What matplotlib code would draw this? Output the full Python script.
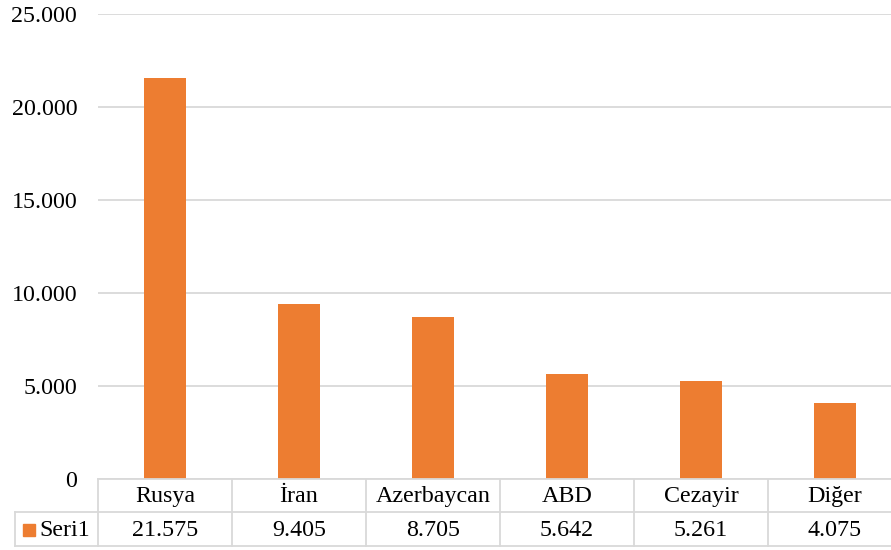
import matplotlib
matplotlib.use("Agg")
import matplotlib.pyplot as plt
from matplotlib.lines import Line2D
from matplotlib.patches import Rectangle

categories = ["Rusya", "İran", "Azerbaycan", "ABD", "Cezayir", "Diğer"]
values = [21575, 9405, 8705, 5642, 5261, 4075]
series_name = "Seri1"
yticks = [0, 5000, 10000, 15000, 20000, 25000]

BAR = "#ED7D31"
GRID = "#D9D9D9"
W, H = 891, 550

plt.rcParams["font.family"] = ["Liberation Serif", "DejaVu Serif"]
plt.rcParams["font.size"] = 17.3


def fmt(v):
    return f"{v:,}".replace(",", ".")


def fx(px):
    return px / W


def fy(py):
    return 1 - py / H


fig = plt.figure(figsize=(W / 100, H / 100), dpi=100)

x_left, x_right = 98, 902
y_top, y_base = 14, 479
ax = fig.add_axes([fx(x_left), fy(y_base), fx(x_right - x_left), (y_base - y_top) / H])
ax.set_xlim(-0.5, len(categories) - 0.5)
ax.set_ylim(0, 25000)
xs = list(range(len(categories)))
ax.bar(xs, values, width=0.31, color=BAR, zorder=3)
ax.set_yticks(yticks)
ax.set_yticklabels([fmt(v) if v else "0" for v in yticks])
ax.tick_params(axis="y", length=0, pad=15)
ax.tick_params(axis="x", length=0, labelbottom=False)
ax.grid(axis="y", color=GRID, linewidth=1.3, zorder=0)
for s in ax.spines.values():
    s.set_visible(False)
ax.set_xticks([])

# data table under the axis
row1, row2, row3 = 479, 512, 546
col_w = (x_right - x_left) / len(categories)
legend_left = 15
lw = 1.3


def hline(y, x0, x1):
    fig.add_artist(Line2D([fx(x0), fx(x1)], [fy(y), fy(y)], color=GRID, lw=lw))


def vline(x, y0, y1):
    fig.add_artist(Line2D([fx(x), fx(x)], [fy(y0), fy(y1)], color=GRID, lw=lw))


hline(row1, x_left, x_right)
hline(row2, legend_left, x_right)
hline(row3, legend_left, x_right)
vline(legend_left, row2, row3)
for i in range(len(categories) + 1):
    vline(x_left + i * col_w, row1, row3)

for i, (c, v) in enumerate(zip(categories, values)):
    cx = x_left + (i + 0.5) * col_w
    fig.text(fx(cx), fy((row1 + row2) / 2 + 1), c, ha="center", va="center")
    fig.text(fx(cx), fy((row2 + row3) / 2 + 1), fmt(v), ha="center", va="center")

fig.add_artist(Rectangle((fx(23), fy(536)), fx(12), 12 / H, color=BAR))
fig.text(fx(39), fy((row2 + row3) / 2 + 1), series_name, ha="left", va="center")

fig.savefig("out.png", dpi=100)
